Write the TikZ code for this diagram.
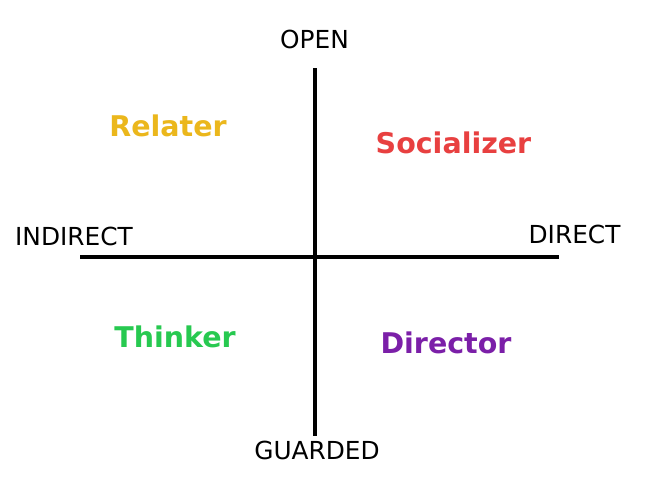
\documentclass[tikz,border=0pt]{standalone}
\usepackage{fontspec}
\setmainfont{DejaVu Sans}
\definecolor{cgold}{HTML}{EBB71C}
\definecolor{cred}{HTML}{E84040}
\definecolor{cgreen}{HTML}{27C950}
\definecolor{cpurple}{HTML}{7B1FA8}
\tikzset{
  axislabel/.style={anchor=base, inner sep=0pt, font=\fontsize{24.8}{28}\selectfont},
  quadlabel/.style={anchor=base, inner sep=0pt, font=\fontsize{28.5}{32}\selectfont\bfseries},
  axisline/.style={line width=4.5pt, black}
}
\begin{document}
\begin{tikzpicture}[x=1pt,y=-1pt]
\useasboundingbox[fill=white] (0,0) rectangle (650,488);
\coordinate (vtop) at (315,68);
\coordinate (vbot) at (315,436);
\coordinate (hleft) at (80,257);
\coordinate (hright) at (559,257);
\draw[axisline] (vtop) -- (vbot);
\draw[axisline] (hleft) -- (hright);
\node[axislabel] (open) at (314.5,48) {OPEN};
\node[axislabel] (guarded) at (317,459) {GUARDED};
\node[axislabel] (indirect) at (74,245) {INDIRECT};
\node[axislabel] (direct) at (574.5,243) {DIRECT};
\node[quadlabel, text=cgold] (relater) at (168,136) {Relater};
\node[quadlabel, text=cred] (socializer) at (453.5,153) {Socializer};
\node[quadlabel, text=cgreen] (thinker) at (175,347) {Thinker};
\node[quadlabel, text=cpurple] (director) at (446,353) {Director};
\end{tikzpicture}
\end{document}
